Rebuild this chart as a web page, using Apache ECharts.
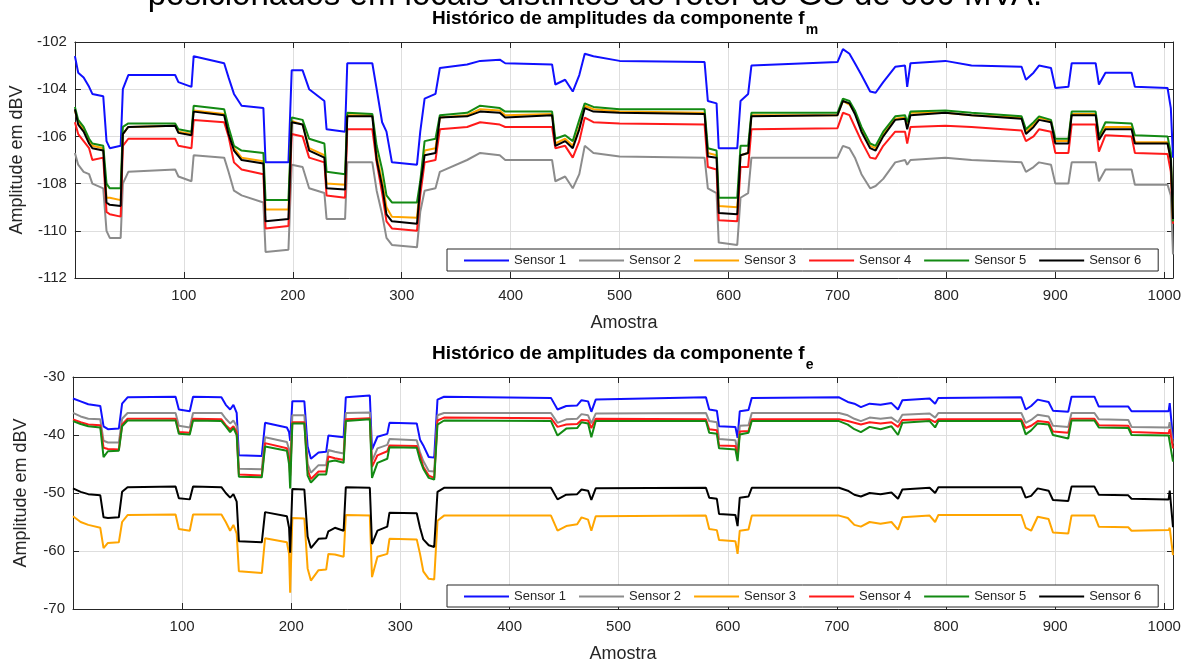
<!DOCTYPE html>
<html>
<head>
<meta charset="utf-8">
<script src="https://cdn.jsdelivr.net/npm/echarts@6/dist/echarts.min.js"></script>
<style>
html,body{margin:0;padding:0;background:#fff;}
#chart{width:1191px;height:664px;}
</style>
</head>
<body>
<div id="chart"></div>
<script>
// ---------- DATA ----------
const sensorNames = ['Sensor 1','Sensor 2','Sensor 3','Sensor 4','Sensor 5','Sensor 6'];
const xTicks = [100,200,300,400,500,600,700,800,900,1000];

// Top plot (component f_m): sample positions of read vertices
const xTop = [0,3,8,13,16,26,29,32,42,44,49,92,95,107,109,137,141,146,153,173,175,196,199,209,215,229,231,248,250,273,277,282,286,291,314,317,321,331,335,360,372,390,395,438,441,450,457,463,468,476,500,578,581,589,591,608,611,618,621,700,705,711,716,722,730,735,742,753,762,764,767,799,823,869,873,880,885,896,900,912,915,937,940,946,970,973,1003,1006,1008];
const s1Top = [-102.6,-103.3,-103.5,-103.9,-104.2,-104.3,-106.2,-106.5,-106.4,-104.0,-103.4,-103.4,-103.7,-103.9,-102.6,-102.9,-103.5,-104.2,-104.7,-104.8,-107.1,-107.1,-103.2,-103.2,-104.0,-104.5,-105.7,-105.8,-102.9,-102.9,-104.0,-105.4,-105.8,-107.1,-107.2,-105.8,-104.4,-104.2,-103.1,-102.95,-102.8,-102.75,-102.9,-102.95,-103.8,-103.6,-104.1,-103.4,-102.5,-102.6,-102.8,-102.85,-104.5,-104.6,-106.5,-106.5,-104.5,-104.2,-103.0,-102.85,-102.3,-102.5,-102.9,-103.4,-104.1,-104.15,-103.7,-103.05,-103.0,-103.9,-102.9,-102.8,-103.0,-103.05,-103.6,-103.3,-103.0,-103.1,-103.95,-103.9,-102.9,-102.9,-103.8,-103.3,-103.3,-103.9,-103.95,-104.8,-106.9];
const s2Top = [-106.7,-107.2,-107.5,-107.6,-108.0,-108.2,-110.0,-110.3,-110.3,-108.0,-107.5,-107.4,-107.7,-107.9,-106.8,-106.9,-107.5,-108.3,-108.5,-108.8,-110.9,-110.8,-107.2,-107.3,-108.2,-108.4,-109.5,-109.5,-107.1,-107.1,-108.3,-109.3,-110.3,-110.6,-110.7,-109.2,-108.3,-108.2,-107.5,-107.0,-106.7,-106.8,-107.0,-107.0,-107.9,-107.7,-108.2,-107.6,-106.4,-106.7,-106.85,-106.9,-108.2,-108.4,-110.5,-110.6,-108.6,-108.4,-106.9,-106.9,-106.4,-106.5,-106.9,-107.6,-108.2,-108.1,-107.8,-107.1,-107.0,-107.2,-107.0,-106.9,-107.0,-107.1,-107.5,-107.3,-107.1,-107.2,-108.0,-108.0,-107.1,-107.1,-107.9,-107.4,-107.4,-108.05,-108.05,-108.5,-111.0];
const s3Top = [-104.9,-105.4,-105.7,-106.2,-106.4,-106.5,-108.6,-108.6,-108.7,-105.9,-105.6,-105.55,-105.8,-105.9,-104.9,-105.05,-105.8,-106.5,-106.9,-107.05,-109.1,-109.1,-105.35,-105.5,-106.5,-106.8,-108.0,-108.05,-105.1,-105.1,-106.8,-107.9,-109.0,-109.4,-109.45,-108.0,-106.6,-106.5,-105.2,-105.1,-104.85,-104.9,-105.1,-105.05,-106.3,-106.1,-106.4,-105.6,-104.7,-104.85,-104.95,-105.0,-106.7,-106.8,-108.95,-109.0,-106.8,-106.7,-105.1,-105.1,-104.5,-104.65,-105.0,-105.7,-106.4,-106.5,-105.9,-105.25,-105.2,-105.6,-105.0,-105.0,-105.1,-105.2,-105.8,-105.5,-105.2,-105.35,-106.2,-106.2,-105.05,-105.05,-106.05,-105.6,-105.6,-106.25,-106.25,-107.0,-109.6];
const s4Top = [-105.4,-105.9,-106.2,-106.5,-107.0,-106.9,-109.2,-109.3,-109.4,-106.4,-106.1,-106.1,-106.4,-106.5,-105.3,-105.4,-106.0,-107.1,-107.4,-107.6,-109.9,-109.8,-105.9,-106.0,-106.9,-107.1,-108.5,-108.6,-105.7,-105.7,-107.1,-108.4,-109.6,-109.9,-110.0,-108.5,-107.1,-107.0,-105.7,-105.6,-105.4,-105.5,-105.6,-105.6,-106.5,-106.4,-106.9,-106.2,-105.2,-105.4,-105.45,-105.5,-107.3,-107.4,-109.55,-109.6,-107.3,-107.3,-105.7,-105.65,-105.0,-105.1,-105.6,-106.2,-106.9,-106.95,-106.4,-105.8,-105.8,-106.3,-105.6,-105.55,-105.6,-105.75,-106.2,-106.0,-105.7,-105.8,-106.7,-106.7,-105.5,-105.5,-106.65,-105.95,-106.0,-106.7,-106.75,-107.5,-109.7];
const s5Top = [-104.75,-105.3,-105.6,-106.1,-106.3,-106.4,-108.0,-108.2,-108.2,-105.6,-105.45,-105.45,-105.7,-105.8,-104.7,-104.85,-105.6,-106.4,-106.6,-106.7,-108.7,-108.7,-105.2,-105.3,-106.1,-106.3,-107.5,-107.6,-105.0,-105.05,-106.4,-107.4,-108.5,-108.8,-108.8,-107.9,-106.2,-106.1,-105.1,-105.0,-104.7,-104.8,-104.95,-104.95,-106.1,-105.95,-106.2,-105.3,-104.6,-104.75,-104.85,-104.85,-106.5,-106.6,-108.6,-108.6,-106.4,-106.4,-105.0,-105.0,-104.4,-104.5,-104.9,-105.6,-106.3,-106.4,-105.8,-105.15,-105.1,-105.4,-104.95,-104.9,-105.0,-105.15,-105.7,-105.4,-105.15,-105.3,-106.1,-106.1,-104.95,-104.95,-106.0,-105.4,-105.45,-105.95,-106.0,-106.7,-109.6];
const s6Top = [-104.85,-105.5,-105.8,-106.3,-106.5,-106.6,-108.8,-108.9,-108.95,-105.9,-105.6,-105.55,-105.85,-105.95,-104.95,-105.1,-105.9,-106.6,-107.0,-107.15,-109.6,-109.5,-105.4,-105.5,-106.6,-106.9,-108.2,-108.25,-105.15,-105.15,-107.0,-108.1,-109.3,-109.6,-109.7,-108.1,-106.8,-106.7,-105.2,-105.15,-104.95,-105.0,-105.2,-105.1,-106.4,-106.2,-106.5,-105.7,-104.8,-104.95,-105.0,-105.05,-106.85,-106.9,-109.25,-109.3,-106.8,-106.7,-105.15,-105.1,-104.5,-104.6,-105.05,-105.8,-106.5,-106.6,-106.0,-105.3,-105.25,-105.7,-105.1,-105.0,-105.1,-105.25,-105.9,-105.6,-105.3,-105.4,-106.3,-106.3,-105.1,-105.1,-106.15,-105.7,-105.7,-106.3,-106.3,-107.0,-109.5];

// Bottom plot (component f_e)
const xBot = [0,7,14,25,28,32,42,45,50,94,97,107,110,136,140,144,147,150,152,173,176,196,198,199,201,212,215,218,225,232,234,240,248,250,272,274,279,288,290,315,318,321,326,331,334,340,438,444,452,462,466,472,475,479,580,583,590,592,607,609,611,619,622,702,710,716,722,730,740,750,756,760,785,790,793,869,873,878,884,894,898,912,915,936,940,967,970,1004,1005,1008];
const s1Bot = [-33.7,-34.2,-34.7,-35.0,-38.5,-39.0,-38.9,-34.6,-33.5,-33.4,-35.6,-35.9,-33.4,-33.5,-34.8,-35.6,-34.8,-36.2,-43.5,-43.6,-37.9,-38.7,-39.5,-41.0,-34.2,-34.2,-42.0,-44.1,-43.0,-42.9,-40.1,-40.2,-40.4,-33.5,-33.2,-42.5,-40.3,-39.8,-37.9,-38.0,-40.8,-41.8,-43.8,-43.9,-33.9,-33.4,-33.6,-35.6,-35.0,-34.9,-34.0,-34.2,-36.0,-33.9,-33.5,-35.6,-35.8,-38.5,-38.6,-40.5,-35.9,-35.7,-33.6,-33.5,-34.3,-34.6,-35.2,-34.6,-34.8,-34.5,-35.6,-34.0,-33.7,-34.6,-33.6,-33.5,-35.6,-35.0,-33.9,-34.3,-35.8,-36.0,-33.4,-33.4,-35.1,-35.1,-35.9,-35.9,-34.5,-40.7];
const s2Bot = [-36.2,-36.8,-37.2,-37.3,-41.0,-41.3,-41.3,-37.2,-36.2,-36.2,-38.4,-38.7,-36.2,-36.2,-37.2,-38.0,-37.5,-38.5,-45.8,-45.9,-40.4,-41.2,-42.5,-45.0,-36.6,-36.6,-45.0,-46.5,-45.2,-45.2,-42.6,-42.9,-43.2,-36.2,-36.1,-44.5,-42.3,-41.7,-40.7,-40.9,-43.0,-44.5,-46.2,-46.3,-36.6,-36.2,-36.2,-37.9,-37.3,-37.2,-36.4,-36.6,-38.0,-36.3,-36.2,-37.6,-37.8,-40.7,-40.9,-43.0,-38.4,-38.3,-36.2,-36.2,-36.6,-37.2,-37.6,-37.0,-37.2,-37.0,-37.8,-36.5,-36.3,-37.0,-36.2,-36.2,-37.9,-37.4,-36.5,-36.8,-38.4,-38.6,-36.2,-36.2,-37.3,-37.4,-38.6,-38.7,-37.8,-41.5];
const s3Bot = [-54.0,-55.0,-55.5,-56.0,-59.5,-58.6,-58.5,-55.0,-53.8,-53.7,-56.2,-56.5,-53.7,-53.7,-55.0,-56.5,-55.5,-57.0,-63.5,-63.8,-57.8,-58.5,-60.5,-67.2,-54.3,-54.4,-63.0,-65.1,-63.3,-63.2,-60.5,-60.6,-61.0,-53.8,-53.9,-64.5,-61.0,-60.5,-57.9,-58.0,-60.5,-63.5,-64.8,-64.9,-54.8,-53.9,-53.9,-56.5,-55.7,-55.4,-54.2,-54.6,-56.5,-54.0,-53.9,-56.2,-56.4,-58.1,-58.3,-60.5,-56.5,-56.3,-53.9,-53.9,-54.3,-55.5,-55.8,-55.0,-55.3,-55.0,-56.3,-54.2,-53.9,-55.0,-53.8,-53.8,-56.0,-56.5,-54.1,-54.5,-56.8,-57.0,-53.9,-53.9,-55.8,-55.9,-56.5,-56.4,-56.0,-60.7];
const s4Bot = [-37.3,-37.8,-38.2,-38.3,-42.2,-42.4,-42.5,-38.2,-37.2,-37.2,-39.5,-39.6,-37.2,-37.3,-38.3,-39.0,-38.5,-39.5,-46.8,-47.0,-41.4,-42.3,-44.0,-47.0,-37.8,-37.8,-46.0,-47.6,-46.3,-46.3,-43.7,-44.0,-44.3,-37.3,-37.1,-45.5,-43.5,-42.8,-41.8,-41.9,-43.5,-45.5,-47.0,-47.4,-37.5,-37.0,-37.1,-38.6,-38.2,-38.1,-37.4,-37.5,-38.8,-37.2,-37.3,-39.0,-39.2,-41.8,-41.9,-43.8,-39.4,-39.3,-37.3,-37.3,-37.6,-37.9,-38.2,-37.8,-38.0,-37.8,-38.6,-37.4,-37.3,-37.8,-37.3,-37.3,-38.8,-38.4,-37.6,-37.8,-39.4,-39.6,-37.2,-37.2,-38.3,-38.4,-39.5,-39.7,-39.0,-42.3];
const s5Bot = [-37.6,-38.1,-38.5,-38.7,-43.8,-42.8,-42.7,-38.5,-37.5,-37.5,-39.8,-39.9,-37.5,-37.6,-38.5,-39.5,-38.8,-40.0,-47.2,-47.3,-42.0,-42.7,-45.0,-49.2,-38.0,-38.0,-47.0,-48.2,-46.8,-46.8,-44.6,-44.4,-44.8,-37.6,-37.3,-47.4,-44.8,-44.1,-42.1,-42.2,-44.3,-45.8,-47.4,-47.7,-38.2,-37.5,-37.6,-40.1,-38.9,-38.8,-37.8,-38.0,-40.4,-37.6,-37.6,-39.6,-39.8,-42.3,-42.5,-44.5,-39.9,-39.6,-37.6,-37.6,-38.2,-39.0,-39.5,-38.6,-39.0,-38.5,-40.0,-37.9,-37.6,-38.7,-37.6,-37.6,-39.9,-39.2,-38.0,-38.2,-40.0,-40.6,-37.5,-37.5,-38.7,-38.8,-40.0,-40.1,-39.8,-44.6];
const s6Bot = [-49.2,-49.8,-50.2,-50.4,-54.2,-54.3,-54.2,-49.8,-49.0,-48.9,-50.9,-51.1,-48.9,-49.0,-50.0,-50.8,-50.2,-51.5,-58.3,-58.5,-53.3,-54.0,-56.0,-60.3,-49.3,-49.4,-57.5,-59.5,-57.9,-57.8,-56.6,-56.0,-56.5,-49.0,-49.1,-58.8,-56.5,-55.8,-53.4,-53.5,-56.0,-58.0,-59.0,-59.3,-49.8,-49.1,-49.1,-51.1,-50.3,-50.2,-49.4,-49.6,-51.2,-49.2,-49.1,-50.8,-51.0,-53.6,-53.8,-55.7,-50.8,-50.6,-49.1,-49.1,-49.6,-50.3,-50.6,-50.0,-50.2,-49.9,-51.0,-49.4,-49.1,-50.0,-49.0,-49.0,-50.8,-50.5,-49.2,-49.6,-51.2,-51.4,-48.9,-48.9,-50.3,-50.4,-51.0,-51.1,-49.6,-55.9];

// ---------- STYLE ----------
const FONT = '"Liberation Sans", Arial, Helvetica, sans-serif';
const INK = '#262626';
const colors = ['#1010ff','#8c8c8c','#ffa500','#ff1a1a','#138a13','#000000'];

const topVals = [s1Top,s2Top,s3Top,s4Top,s5Top,s6Top];
const botVals = [s1Bot,s2Bot,s3Bot,s4Bot,s5Bot,s6Bot];

function mkSeries(xs, vals, gi) {
  return vals.map((v, k) => ({
    name: sensorNames[k], type: 'line', xAxisIndex: gi*2, yAxisIndex: gi*2,
    data: xs.map((x, i) => [x, v[i]]),
    showSymbol: false, symbol: 'none', animation: false, silent: true,
    lineStyle: { width: 2, color: colors[k] }, itemStyle: { color: colors[k] },
    z: 2 + k
  }));
}

function xAxes(gi) {
  const base = {
    gridIndex: gi, type: 'value', min: 0, max: 1008, interval: 100,
    axisLine: { show: true, onZero: false, lineStyle: { color: INK, width: 1 } },
    axisTick: { show: true, inside: true, length: 6, lineStyle: { color: INK } }
  };
  return [
    Object.assign({}, base, {
      position: 'bottom',
      axisLabel: { show: true, color: INK, fontSize: 15, fontFamily: FONT, margin: 10,
        formatter: v => (xTicks.indexOf(v) >= 0 ? String(v) : '') },
      splitLine: { show: true, lineStyle: { color: '#dedede', width: 1 } },
      name: 'Amostra', nameLocation: 'middle', nameGap: 36,
      nameTextStyle: { color: INK, fontSize: 18, fontFamily: FONT }
    }),
    Object.assign({}, base, {
      position: 'top', axisLabel: { show: false }, splitLine: { show: false }
    })
  ];
}
function yAxes(gi, mn, mx, iv) {
  const base = {
    gridIndex: gi, type: 'value', min: mn, max: mx, interval: iv,
    axisLine: { show: true, onZero: false, lineStyle: { color: INK, width: 1 } },
    axisTick: { show: true, inside: true, length: 6, lineStyle: { color: INK } }
  };
  return [
    Object.assign({}, base, {
      position: 'left',
      axisLabel: { show: true, color: INK, fontSize: 15, fontFamily: FONT, margin: 8 },
      splitLine: { show: true, lineStyle: { color: '#dedede', width: 1 } },
      name: 'Amplitude em dBV', nameLocation: 'middle', nameGap: 43,
      nameTextStyle: { color: INK, fontSize: 18, fontFamily: FONT }
    }),
    Object.assign({}, base, {
      position: 'right', axisLabel: { show: false }, splitLine: { show: false }
    })
  ];
}

function legend(top) {
  return {
    data: sensorNames, left: 447, top: top, orient: 'horizontal',
    icon: 'rect', itemWidth: 45, itemHeight: 2, itemGap: 13,
    padding: [5, 17, 4, 17],
    borderColor: INK, borderWidth: 1, backgroundColor: '#ffffff',
    textStyle: { color: INK, fontSize: 13, fontFamily: FONT },
    selectedMode: false, z: 20
  };
}

// measure text width for subscripts
const ctx = document.createElement('canvas').getContext('2d');
function tw(font, s) { ctx.font = font; return ctx.measureText(s).width; }
const titleFont = 'bold 19px ' + FONT;
const subFont = 'bold 14px ' + FONT;
const mainTxt = 'Histórico de amplitudes da componente f';
const titleX = 432;
const subX = titleX + tw(titleFont, mainTxt) + 1;

const chart = echarts.init(document.getElementById('chart'), null, { renderer: 'canvas' });
chart.setOption({
  backgroundColor: '#ffffff',
  animation: false,
  grid: [
    { left: 73, right: 18, top: 42, height: 236, containLabel: false },
    { left: 73, right: 18, top: 377, height: 236, containLabel: false }
  ],
  xAxis: xAxes(0).concat(xAxes(1)),
  yAxis: yAxes(0, -112, -102, 2).concat(yAxes(1, -70, -30, 10)),
  legend: [legend(249), legend(585)],
  series: mkSeries(xTop, topVals, 0).concat(mkSeries(xBot, botVals, 1)),
  graphic: [
    { type: 'text', x: 595, y: -4, silent: true,
      style: { text: 'posicionados em locais distintos do rotor do GS de 600 MVA.', font: '33px ' + FONT,
        fill: '#000', align: 'center', verticalAlign: 'middle' } },
    { type: 'text', x: titleX, y: 19, silent: true,
      style: { text: mainTxt, font: titleFont, fill: '#000', align: 'left', verticalAlign: 'middle' } },
    { type: 'text', x: subX, y: 30, silent: true,
      style: { text: 'm', font: subFont, fill: '#000', align: 'left', verticalAlign: 'middle' } },
    { type: 'text', x: titleX, y: 354, silent: true,
      style: { text: mainTxt, font: titleFont, fill: '#000', align: 'left', verticalAlign: 'middle' } },
    { type: 'text', x: subX, y: 365, silent: true,
      style: { text: 'e', font: subFont, fill: '#000', align: 'left', verticalAlign: 'middle' } }
  ]
});
</script>
</body>
</html>
